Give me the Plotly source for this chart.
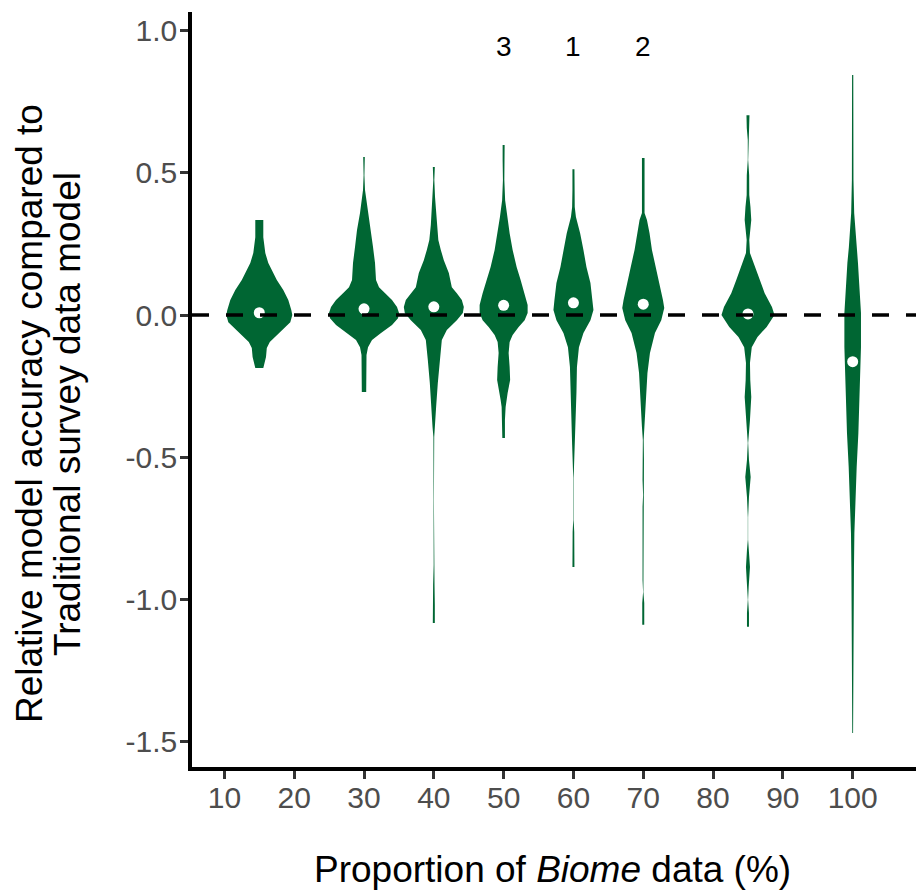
import plotly.graph_objects as go

# ---------------- data ----------------
groups = [15, 30, 40, 50, 60, 70, 85, 100]
medians = [0.008, 0.022, 0.029, 0.034, 0.043, 0.038, 0.004, -0.164]

# violin outlines: y levels (top -> bottom) and density (half-width, relative)
v15_y = [0.334, 0.274, 0.218, 0.183, 0.148, 0.123, 0.088, 0.053, 0.018, 0.0, -0.025, -0.046, -0.070, -0.095, -0.116, -0.148, -0.186]
v15_d = [4, 4, 6, 9, 14, 17.5, 24, 29, 32, 33, 31, 25, 17.5, 10.5, 7.5, 6.7, 4]

v30_y = [0.556, 0.492, 0.440, 0.404, 0.359, 0.299, 0.239, 0.183, 0.123, 0.098, 0.077, 0.053, 0.028, 0.007, -0.011, -0.035, -0.063, -0.088, -0.113, -0.141, -0.271]
v30_d = [0.8, 0.4, 1, 2.5, 4, 7, 9, 11, 12, 15, 21, 28, 33, 35, 34, 28, 17, 8, 4, 2.5, 2.2]

v40_y = [0.521, 0.475, 0.415, 0.369, 0.317, 0.264, 0.229, 0.193, 0.148, 0.098, 0.077, 0.053, 0.028, 0.007, -0.018, -0.053, -0.088, -0.158, -0.239, -0.324, -0.394, -0.429, -0.651, -0.879, -0.950, -1.020, -1.083]
v40_d = [1, 0.5, 1.2, 2, 3, 4.5, 7, 10, 15, 18, 23, 28, 30, 29, 23, 13, 8, 6, 4, 2.3, 1.3, 0.4, 0.1, 0.15, 0.7, 1, 1]

v50_y = [0.598, 0.545, 0.475, 0.404, 0.345, 0.288, 0.229, 0.169, 0.123, 0.077, 0.035, 0.007, -0.018, -0.042, -0.070, -0.095, -0.134, -0.183, -0.229, -0.274, -0.299, -0.324, -0.369, -0.433]
v50_d = [1, 1, 0.7, 1.5, 3.7, 6, 9, 13, 17, 21, 24, 24, 21, 15, 9, 6, 5, 6, 6.5, 4, 3, 2, 1.3, 1.3]

v60_y = [0.513, 0.440, 0.380, 0.345, 0.288, 0.229, 0.169, 0.113, 0.053, 0.018, -0.018, -0.063, -0.113, -0.183, -0.274, -0.369, -0.457, -0.521, -0.573, -0.721, -0.763, -0.886]
v60_d = [1, 1, 1.3, 2.5, 6.7, 10, 13, 17, 19, 20, 17, 10, 5.5, 3.5, 3, 2, 1.3, 1, 0.2, 0.2, 0.8, 1]

v70_y = [0.552, 0.359, 0.334, 0.288, 0.229, 0.169, 0.113, 0.053, 0.025, -0.018, -0.063, -0.134, -0.204, -0.299, -0.394, -0.440, -0.510, -0.580, -0.633, -0.675, -0.932, -0.974, -1.013, -1.090]
v70_d = [1.3, 1.3, 3.7, 6.3, 8.7, 12.5, 16.3, 19.7, 21, 18, 11.7, 6.7, 4.2, 2.7, 1.3, 0.4, 0.7, 0.7, 0.15, 0.7, 0.7, 0.15, 1, 1]

v85_y = [0.703, 0.658, 0.616, 0.545, 0.492, 0.422, 0.380, 0.334, 0.288, 0.264, 0.218, 0.169, 0.123, 0.077, 0.028, 0.0, -0.042, -0.077, -0.113, -0.169, -0.229, -0.288, -0.369, -0.415, -0.450, -0.510, -0.570, -0.640, -0.711, -0.791, -0.827, -0.886, -0.957, -1.002, -1.048, -1.097]
v85_d = [1.5, 1.2, 0.2, 0.2, 1.2, 1.3, 2.5, 3.3, 2, 1.3, 2, 7, 11.7, 16.7, 24, 26.5, 18.7, 9.5, 3.8, 2, 2.3, 3.3, 2, 1, 0.2, 1, 2.7, 1, 0.15, 0.15, 1, 2, 0.7, 0.15, 1, 1]

v100_y = [0.844, 0.616, 0.475, 0.359, 0.299, 0.239, 0.183, 0.123, 0.063, 0.007, -0.113, -0.229, -0.299, -0.415, -0.535, -0.651, -0.767, -0.886, -1.002, -1.118, -1.238, -1.470]
v100_d = [0.6, 0.5, 0.8, 1.5, 3, 3.8, 5.3, 6.3, 7.5, 8.3, 8.3, 7.5, 6.7, 5.7, 4, 2.7, 1.7, 1.3, 1, 0.7, 0.5, 0.4]

violin_y = [v15_y, v30_y, v40_y, v50_y, v60_y, v70_y, v85_y, v100_y]
violin_d = [v15_d, v30_d, v40_d, v50_d, v60_d, v70_d, v85_d, v100_d]

rank_x = [50, 60, 70]
rank_labels = ["3", "1", "2"]
rank_y = 0.943

x_ticks = [10, 20, 30, 40, 50, 60, 70, 80, 90, 100]
y_ticks = [-1.5, -1.0, -0.5, 0.0, 0.5, 1.0]
y_ticktext = ["-1.5", "-1.0", "-0.5", "0.0", "0.5", "1.0"]

# ---------------- styling ----------------
GREEN = "#006633"
DENS_SCALE = 1 / 6.981   # density unit -> x-axis units
FONT = "Liberation Sans, Arial, sans-serif"

fig = go.Figure()

for g, ys, ds in zip(groups, violin_y, violin_d):
    xs = [g + d * DENS_SCALE for d in ds] + [g - d * DENS_SCALE for d in reversed(ds)]
    yy = list(ys) + list(reversed(ys))
    fig.add_trace(go.Scatter(x=xs, y=yy, mode="lines", fill="toself",
                             fillcolor=GREEN, line=dict(width=0, color=GREEN),
                             hoverinfo="skip", showlegend=False))

fig.add_trace(go.Scatter(x=groups, y=medians, mode="markers",
                         marker=dict(color="white", size=11, line=dict(width=0)),
                         showlegend=False))

fig.add_shape(type="line", xref="paper", x0=0, x1=1, yref="y", y0=0, y1=0,
              line=dict(color="black", width=3.3, dash="17px,17px"), layer="above")

for x, t in zip(rank_x, rank_labels):
    fig.add_annotation(x=x, y=rank_y, text=t, showarrow=False,
                       font=dict(size=28, color="black", family=FONT),
                       xanchor="center", yanchor="middle")

# axis titles
fig.add_annotation(xref="paper", yref="paper", x=-0.2251, y=0.4675,
                   text="Relative model accuracy compared to", textangle=-90,
                   showarrow=False, font=dict(size=37, color="black", family=FONT),
                   xanchor="center", yanchor="middle")
fig.add_annotation(xref="paper", yref="paper", x=-0.1727, y=0.4675,
                   text="Traditional survey data model", textangle=-90,
                   showarrow=False, font=dict(size=37, color="black", family=FONT),
                   xanchor="center", yanchor="middle")
fig.add_annotation(xref="paper", yref="paper", x=0.4986, y=-0.1351,
                   text="Proportion of <i>Biome</i> data (%)",
                   showarrow=False, font=dict(size=37, color="black", family=FONT),
                   xanchor="center", yanchor="middle")

fig.update_layout(
    width=916, height=894,
    margin=dict(l=192, r=0, t=12, b=127),
    plot_bgcolor="white", paper_bgcolor="white",
    font=dict(family=FONT),
    xaxis=dict(range=[5.36, 109.07], tickvals=x_ticks, ticks="outside",
               ticklen=8, tickwidth=2.5, tickcolor="#333333",
               showline=True, linewidth=3.5, linecolor="black",
               showgrid=False, zeroline=False, ticklabelstandoff=-7,
               tickfont=dict(size=30, color="#4D4D4D", family=FONT)),
    yaxis=dict(range=[-1.590, 1.066], tickvals=y_ticks, ticktext=y_ticktext,
               ticks="outside", ticklen=8, tickwidth=2.5, tickcolor="#333333",
               showline=True, linewidth=3.5, linecolor="black",
               showgrid=False, zeroline=False, ticklabelstandoff=-3,
               tickfont=dict(size=30, color="#4D4D4D", family=FONT)),
)

fig.write_html("out.html", config={"displayModeBar": False},
               post_script="document.body.style.margin='0';document.body.style.overflow='hidden';")
